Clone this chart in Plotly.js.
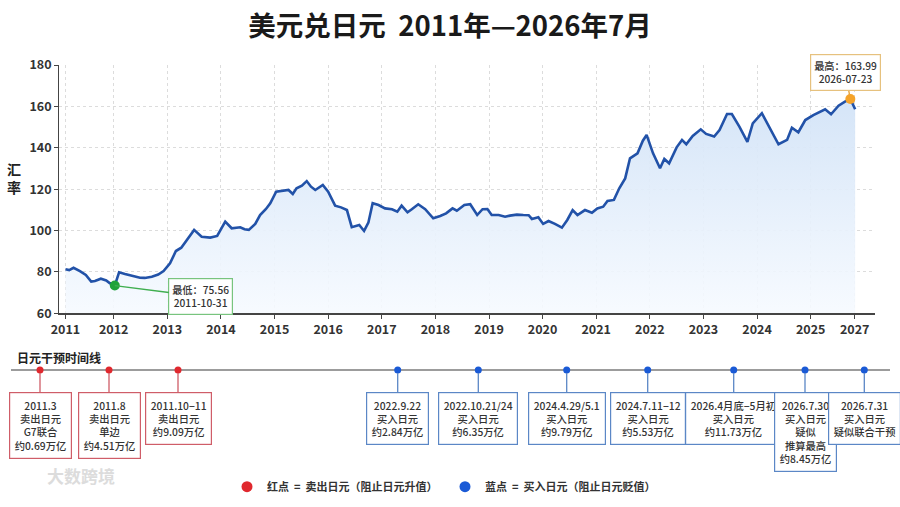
<!DOCTYPE html>
<html>
<head>
<meta charset="utf-8">
<script src="https://cdn.plot.ly/plotly-3.0.1.min.js"></script>
<style>html,body{margin:0;padding:0;background:#fff;}#chart{width:900px;height:507px;}</style>
</head>
<body>
<div id="chart"></div>
<script>
// ---- exchange-rate series (x = position on the year axis) ----
const yearPos = [
 2011.10,2011.17,2011.25,2011.37,2011.48,2011.58,2011.65,2011.76,2011.86,2011.93,
 2012.02,2012.10,2012.21,2012.34,2012.49,2012.58,2012.71,2012.83,2012.93,2013.05,
 2013.16,2013.26,2013.39,2013.50,2013.64,2013.80,2013.93,2014.08,2014.20,2014.36,
 2014.44,2014.52,2014.64,2014.73,2014.84,2014.92,2015.03,2015.13,2015.26,2015.34,
 2015.41,2015.51,2015.60,2015.68,2015.76,2015.90,2016.00,2016.13,2016.24,2016.35,
 2016.44,2016.58,2016.67,2016.75,2016.83,2016.94,2017.06,2017.19,2017.29,2017.37,
 2017.48,2017.56,2017.68,2017.81,2017.96,2018.09,2018.20,2018.32,2018.40,2018.54,
 2018.65,2018.78,2018.88,2018.97,2019.05,2019.18,2019.30,2019.39,2019.52,2019.64,
 2019.74,2019.80,2019.92,2020.01,2020.11,2020.23,2020.36,2020.46,2020.56,2020.65,
 2020.79,2020.92,2021.02,2021.13,2021.21,2021.33,2021.43,2021.54,2021.63,2021.77,
 2021.87,2021.94,2022.06,2022.19,2022.27,2022.36,2022.50,2022.60,2022.68,2022.80,
 2022.95,2023.05,2023.20,2023.30,2023.44,2023.53,2023.67,2023.82,2023.92,2024.09,
 2024.24,2024.40,2024.56,2024.65,2024.77,2024.90,2025.05,2025.27,2025.38,2025.52,
 2025.64,2025.74,2025.83
];
const rate = [
 81.3,80.9,82.0,80.4,78.5,75.3,75.6,76.7,75.9,74.5,
 73.4,79.8,79.0,78.0,77.2,77.1,77.7,78.7,80.4,84.2,
 90.1,91.7,96.2,100.3,97.0,96.6,97.4,104.3,101.1,101.6,
 100.6,100.3,103.2,107.5,110.4,113.2,118.8,119.1,119.6,117.7,
 120.4,121.7,123.9,121.2,119.6,122.0,118.8,112.0,111.2,109.9,
 101.6,102.7,99.8,103.8,113.2,112.3,110.7,110.3,109.1,112.0,
 108.8,110.3,112.7,110.3,105.9,107.0,108.3,110.7,109.6,112.3,
 112.7,107.5,110.3,110.4,107.5,107.5,106.7,107.2,107.7,107.5,
 107.4,105.6,106.4,103.2,104.6,103.2,101.4,105.1,109.9,107.5,
 109.9,108.6,110.7,111.5,114.3,114.8,120.4,125.2,134.9,137.3,
 143.4,146.2,137.3,130.1,134.6,132.5,140.2,143.8,141.7,145.7,
 148.9,146.7,145.4,148.6,156.3,156.3,150.2,142.9,151.8,156.7,
 149.4,141.7,143.8,149.7,147.5,153.4,155.8,158.6,156.2,160.3,
 162.3,163.6,158.6
];
// axis tick labels
const tickPos = [2011.1,2012,2013,2014,2015,2016,2017,2018,2019,2020,2021,2022,2023,2024,2025,2025.82];
const tickLabels = ['2011','2012','2013','2014','2015','2016','2017','2018','2019','2020','2021','2022','2023','2024','2025','2027'];
const minLabel = ['最低：75.56','2011-10-31'];
const maxLabel = ['最高：163.99','2026-07-23'];

// ---- intervention timeline ----
const eventDate = ['2011.3','2011.8','2011.10−11','2022.9.22','2022.10.21/24','2024.4.29/5.1','2024.7.11−12','2026.4月底−5月初','2026.7.30','2026.7.31'];
const eventAction = ['卖出日元','卖出日元','卖出日元','买入日元','买入日元','买入日元','买入日元','买入日元','买入日元','买入日元'];
const eventNote = ['G7联合','单边','','','','','','','疑似<br>推算最高',''];
const eventAmount = ['约0.69万亿','约4.51万亿','约9.09万亿','约2.84万亿','约6.35万亿','约9.79万亿','约5.53万亿','约11.73万亿','约8.45万亿','疑似联合干预'];
const eventType = ['sell','sell','sell','buy','buy','buy','buy','buy','buy','buy'];
const legendText = {sell:'红点 &nbsp;=&nbsp; 卖出日元（阻止日元升值）', buy:'蓝点 &nbsp;=&nbsp; 买入日元（阻止日元贬值）'};

// layout-only positions for the schematic timeline (pixel units of the lower panel)
const timelineX = [40,109,178,397.7,478.3,566.7,647.7,733.7,805,864.3];
const TL_Y = 370, BOX_TOP = 392;

const FONT = '"Noto Sans CJK SC", "Noto Sans", sans-serif';
const col = {sell:'#e0282e', buy:'#1a5ad6', sellBorder:'#cf5d68', buyBorder:'#5b87c6'};

let iMin = 0, iMax = 0;
rate.forEach((v,i)=>{ if(v<rate[iMin]) iMin=i; if(v>rate[iMax]) iMax=i; });

const traces = [];
traces.push({
  x: yearPos, y: rate, type:'scatter', mode:'lines',
  line:{color:'#2252a8', width:2.6},
  fill:'tozeroy',
  fillgradient:{type:'vertical', start:60, stop:165,
    colorscale:[[0,'rgba(246,250,255,0.9)'],[1,'rgba(210,227,247,0.95)']]},
  showlegend:false, hoverinfo:'skip', xaxis:'x', yaxis:'y'
});
traces.push({x:[yearPos[iMin]], y:[rate[iMin]], mode:'markers', type:'scatter',
  marker:{color:'#1fa33a', size:10}, showlegend:false, hoverinfo:'skip'});
traces.push({x:[yearPos[iMax]], y:[rate[iMax]], mode:'markers', type:'scatter',
  marker:{color:'#f5a32a', size:10}, showlegend:false, hoverinfo:'skip'});

['sell','buy'].forEach(tp=>{
  const idx = eventType.map((t,i)=>t===tp?i:-1).filter(i=>i>=0);
  traces.push({
    x: idx.map(i=>timelineX[i]), y: idx.map(()=>TL_Y),
    type:'scatter', mode:'markers', xaxis:'x2', yaxis:'y2',
    marker:{color:col[tp], size:7}, showlegend:false, hoverinfo:'skip'
  });
});
// legend entries (no marks of their own), one legend box per entry
['sell','buy'].forEach((tp,k)=>{
  traces.push({x:[null], y:[null], type:'scatter', mode:'markers', xaxis:'x2', yaxis:'y2',
    legend: k===0 ? 'legend' : 'legend2',
    marker:{color:col[tp], size:11}, name:'<b>'+legendText[tp]+'</b>', hoverinfo:'skip'});
});

const annotations = [];
annotations.push({xref:'paper', yref:'paper', x:14/900, y:1-178/507, xanchor:'center', yanchor:'middle',
  text:'<b>汇<br>率</b>', showarrow:false, font:{size:14, color:'#222'}});
annotations.push({x:yearPos[iMin], y:rate[iMin], xref:'x', yref:'y', xanchor:'center', yanchor:'middle',
  text:minLabel.join('<br>'), showarrow:true, arrowhead:0, arrowwidth:1.4, arrowcolor:'#3fae4f',
  ax:86, ay:11, bgcolor:'#fff', bordercolor:'#78c47e', borderwidth:1.2, borderpad:3,
  font:{size:10.2, color:'#333', weight:500}});
annotations.push({x:yearPos[iMax], y:rate[iMax], xref:'x', yref:'y', xanchor:'center', yanchor:'middle',
  text:maxLabel.join('<br>'), showarrow:true, arrowhead:0, arrowwidth:1.4, arrowcolor:'#e9a640',
  ax:-5, ay:-26, standoff:4, bgcolor:'#fff', bordercolor:'#e6c17e', borderwidth:1.2, borderpad:3,
  font:{size:10.2, color:'#333', weight:500}});
annotations.push({xref:'x2', yref:'y2', x:15, y:357, xanchor:'left', text:'<b>日元干预时间线</b>',
  showarrow:false, font:{size:12, color:'#222'}});
eventDate.forEach((d,i)=>{
  const lines=[d, eventAction[i]];
  if(eventNote[i]) lines.push(eventNote[i]);
  lines.push(eventAmount[i]);
  const tp = eventType[i];
  annotations.push({xref:'x2', yref:'y2', axref:'x2', ayref:'y2',
    x:timelineX[i], y:TL_Y, ax:timelineX[i], ay:BOX_TOP, xanchor:'center', yanchor:'top',
    text:lines.join('<br>'), showarrow:true, arrowhead:0, arrowwidth:1.3, standoff:3,
    arrowcolor: tp==='sell'?col.sellBorder:col.buyBorder,
    bgcolor:'#fff', bordercolor: tp==='sell'?col.sellBorder:col.buyBorder,
    borderwidth:1.2, borderpad:4.5, font:{size:10.3, color:'#333', weight:500}});
});
annotations.push({xref:'paper', yref:'paper', x:45/900, y:1-490/507, xanchor:'left',
  text:'<b>大数跨境</b>', showarrow:false, font:{size:17, color:'#dcdcdc'}});

const gridStyle = {showgrid:true, gridcolor:'#dcdcdc', griddash:'dot', gridwidth:1};
const legendBase = {orientation:'h', xanchor:'left', y:1-486.7/507, yanchor:'middle',
  font:{size:11, color:'#333', family:FONT}, itemsizing:'trace', bgcolor:'rgba(0,0,0,0)'};
const layout = {
  width:900, height:507,
  margin:{l:0,r:0,t:0,b:0},
  paper_bgcolor:'#fff', plot_bgcolor:'rgba(0,0,0,0)',
  font:{family:FONT, color:'#333'},
  title:{text:'<b>美元兑日元  2011年—2026年7月</b>', x:0.5, xanchor:'center', y:1-26.5/507, yanchor:'middle',
    font:{size:27.5, color:'#1a1a1a', family:FONT}},
  xaxis:Object.assign({domain:[59.3/900, 875/900], range:[2010.985, 2026.20], anchor:'y',
    tickmode:'array', tickvals:tickPos, ticktext:tickLabels,
    showline:true, linecolor:'#444', linewidth:1.2, ticks:'outside', ticklen:4, tickcolor:'#444',
    zeroline:false, tickfont:{size:12.5, color:'#333', weight:600}}, gridStyle),
  yaxis:Object.assign({domain:[1-313.3/507, 1-65/507], range:[60,180], dtick:20, tick0:60, anchor:'x',
    showline:true, linecolor:'#444', linewidth:1.2, ticks:'outside', ticklen:4, tickcolor:'#444',
    zeroline:false, tickfont:{size:12.5, color:'#333', weight:600}}, gridStyle),
  xaxis2:{domain:[0,1], range:[0,900], visible:false, anchor:'y2', fixedrange:true},
  yaxis2:{domain:[0,1], range:[507,0], visible:false, anchor:'x2', fixedrange:true},
  shapes:[{type:'line', xref:'x2', yref:'y2', x0:11, x1:890, y0:TL_Y, y1:TL_Y,
    line:{color:'#9c9c9c', width:2}, layer:'below'}],
  legend:Object.assign({x:227/900}, legendBase),
  legend2:Object.assign({x:445/900}, legendBase),
  annotations:annotations,
  showlegend:true
};
Plotly.newPlot('chart', traces, layout, {displayModeBar:false, staticPlot:true});
</script>
</body>
</html>
